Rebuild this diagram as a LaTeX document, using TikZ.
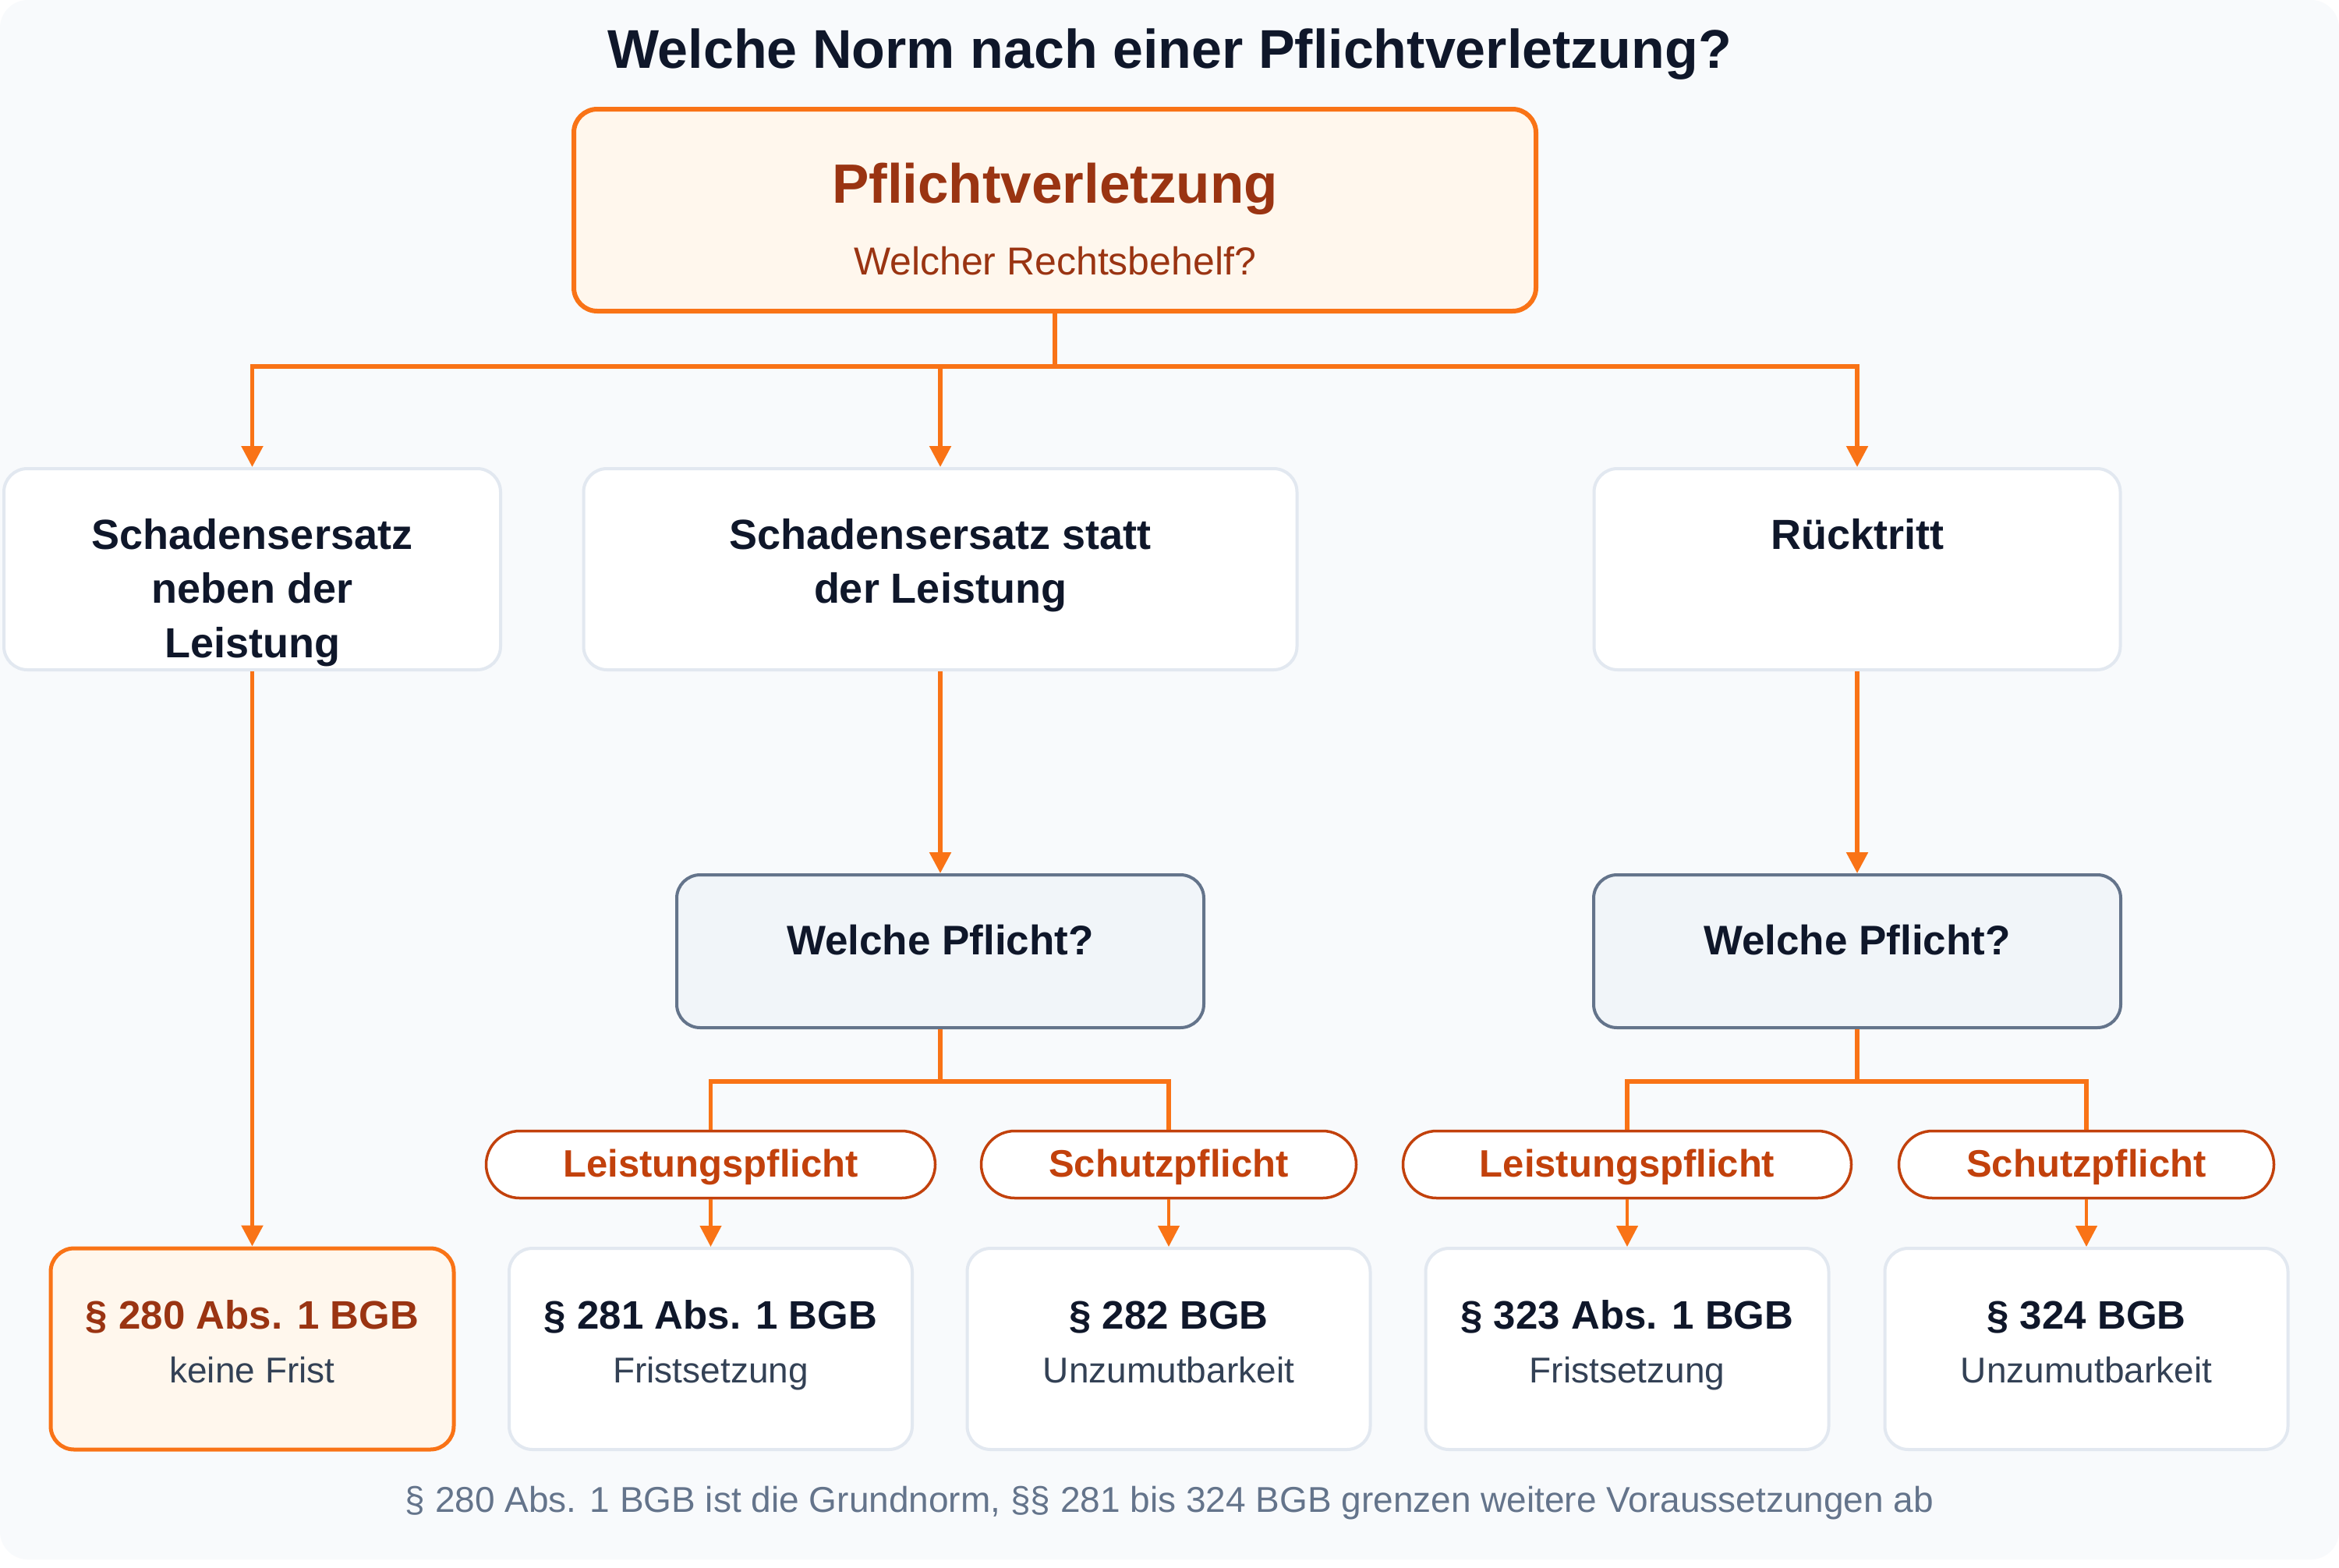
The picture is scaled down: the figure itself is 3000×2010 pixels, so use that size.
\documentclass[tikz,border=0pt]{standalone}
\usepackage{fontspec}
\setmainfont{Liberation Sans}
\usetikzlibrary{arrows.meta}
\definecolor{acOr}{HTML}{F97316}
\definecolor{acOrTxt}{HTML}{9A3412}
\definecolor{acPill}{HTML}{C2410C}
\definecolor{acOrFill}{HTML}{FFF7ED}
\definecolor{acBg}{HTML}{F8FAFC}
\definecolor{acGray}{HTML}{E2E8F0}
\definecolor{acSlate}{HTML}{64748B}
\definecolor{acSlateFill}{HTML}{F1F5F9}
\definecolor{acDark}{HTML}{0F172A}
\definecolor{acSub}{HTML}{334155}
\newcommand{\fsz}[1]{\fontsize{#1}{#1}\selectfont}
\tikzset{
  card/.style={draw=acGray, fill=white, line width=4pt, rounded corners=30pt, inner sep=0pt, minimum height=258pt},
  hicard/.style={draw=acOr, fill=acOrFill, line width=5pt, rounded corners=30pt, inner sep=0pt, minimum height=258pt},
  qbox/.style={draw=acSlate, fill=acSlateFill, line width=4pt, rounded corners=30pt, inner sep=0pt, minimum height=196pt, minimum width=676pt},
  pill/.style={draw=acPill, fill=white, line width=3.5pt, rounded corners=43pt, inner sep=0pt, minimum height=86pt},
  lawbox/.style={card, minimum width=517pt},
  hdtxt/.style={anchor=base, inner sep=0pt, text=acDark, font=\fsz{54}\bfseries},
  qtxt/.style={anchor=base, inner sep=0pt, text=acDark, font=\fsz{53}\bfseries},
  pilltxt/.style={anchor=base, inner sep=0pt, text=acPill, font=\fsz{49}\bfseries},
  lawtxt/.style={anchor=base, inner sep=0pt, text=acDark, font=\fsz{51}\bfseries},
  subtxt/.style={anchor=base, inner sep=0pt, text=acSub, font=\fsz{46}},
  conn/.style={draw=acOr, line width=5.5pt},
  arr/.style={conn, -{Triangle[length=27pt,width=27pt]}},
  thinarr/.style={draw=acOr, line width=4.5pt, -{Triangle[length=27pt,width=27pt]}}
}
\begin{document}
\begin{tikzpicture}[x=1pt,y=-1pt]
\useasboundingbox (0,0) rectangle (3000,2010);
\fill[white] (0,0) rectangle (3000,2010);
\fill[acBg, rounded corners=36pt] (0,0) rectangle (3000,2000);

% title
\node[anchor=base, inner sep=0pt, text=acDark, font=\fsz{70}\bfseries] (title) at (1500,88) {Welche Norm nach einer Pflichtverletzung?};

% top box
\node[draw=acOr, fill=acOrFill, line width=6pt, rounded corners=30pt, inner sep=0pt, minimum width=1234pt, minimum height=259pt] (top) at (1353,269.5) {};
\node[anchor=base, inner sep=0pt, text=acOrTxt, font=\fsz{71}\bfseries] (topT) at (1353,260) {Pflichtverletzung};
\node[anchor=base, inner sep=0pt, text=acOrTxt, font=\fsz{50}] (topS) at (1353,352) {Welcher Rechtsbehelf?};

% row 2
\node[card, minimum width=637pt] (A) at (323.5,730) {};
\node[card, minimum width=915pt] (B) at (1206,730) {};
\node[card, minimum width=675pt] (C) at (2382,730) {};
\node[hdtxt] (A1) at (323.5,704) {Schadensersatz};
\node[hdtxt] (A2) at (323.5,773.5) {neben der};
\node[hdtxt] (A3) at (323.5,843) {Leistung};
\node[hdtxt] (B1) at (1206,704) {Schadensersatz statt};
\node[hdtxt] (B2) at (1206,773.5) {der Leistung};
\node[hdtxt] (C1) at (2382,704) {Rücktritt};

% question boxes
\node[qbox] (QB) at (1206,1220) {};
\node[qbox] (QC) at (2382,1220) {};
\node[qtxt] (QBt) at (1206,1224) {Welche Pflicht?};
\node[qtxt] (QCt) at (2382,1224) {Welche Pflicht?};

% pills
\node[pill, minimum width=576pt] (L1) at (911.5,1493.5) {};
\node[pill, minimum width=481pt] (S1) at (1499,1493.5) {};
\node[pill, minimum width=575pt] (L2) at (2087,1493.5) {};
\node[pill, minimum width=481pt] (S2) at (2676,1493.5) {};
\node[pilltxt] (L1t) at (911.5,1509) {Leistungspflicht};
\node[pilltxt] (S1t) at (1499,1509) {Schutzpflicht};
\node[pilltxt] (L2t) at (2087,1509) {Leistungspflicht};
\node[pilltxt] (S2t) at (2676,1509) {Schutzpflicht};

% law boxes
\node[hicard, minimum width=517pt] (P280) at (323.5,1730) {};
\node[lawbox] (P281) at (911.5,1730) {};
\node[lawbox] (P282) at (1499,1730) {};
\node[lawbox] (P323) at (2087,1730) {};
\node[lawbox] (P324) at (2676,1730) {};
\node[lawtxt, text=acOrTxt] (P280t) at (323.5,1704) {§ 280 Abs. 1 BGB};
\node[subtxt] (P280s) at (323.5,1773) {keine Frist};
\node[lawtxt] (P281t) at (911.5,1704) {§ 281 Abs. 1 BGB};
\node[subtxt] (P281s) at (911.5,1773) {Fristsetzung};
\node[lawtxt] (P282t) at (1499,1704) {§ 282 BGB};
\node[subtxt] (P282s) at (1499,1773) {Unzumutbarkeit};
\node[lawtxt] (P323t) at (2087,1704) {§ 323 Abs. 1 BGB};
\node[subtxt] (P323s) at (2087,1773) {Fristsetzung};
\node[lawtxt] (P324t) at (2676,1704) {§ 324 BGB};
\node[subtxt] (P324s) at (2676,1773) {Unzumutbarkeit};

% footnote
\node[anchor=base, inner sep=0pt, text=acSlate, font=\fsz{46}] (foot) at (1500,1939) {§ 280 Abs. 1 BGB ist die Grundnorm, §§ 281 bis 324 BGB grenzen weitere Voraussetzungen ab};

% connectors
\draw[arr] (top.south) -- ++(0,68) -| (A.north);
\draw[arr] (top.south) -- ++(0,68) -| (B.north);
\draw[arr] (top.south) -- ++(0,68) -| (C.north);
\draw[arr] (A.south) -- (P280.north);
\draw[arr] (B.south) -- (QB.north);
\draw[arr] (C.south) -- (QC.north);
\draw[conn] (QB.south) -- ++(0,67) -| (L1.north);
\draw[conn] (QB.south) -- ++(0,67) -| (S1.north);
\draw[conn] (QC.south) -- ++(0,67) -| (L2.north);
\draw[conn] (QC.south) -- ++(0,67) -| (S2.north);
\draw[thinarr] (L1.south) -- (P281.north);
\draw[thinarr] (S1.south) -- (P282.north);
\draw[thinarr] (L2.south) -- (P323.north);
\draw[thinarr] (S2.south) -- (P324.north);
\end{tikzpicture}
\end{document}
